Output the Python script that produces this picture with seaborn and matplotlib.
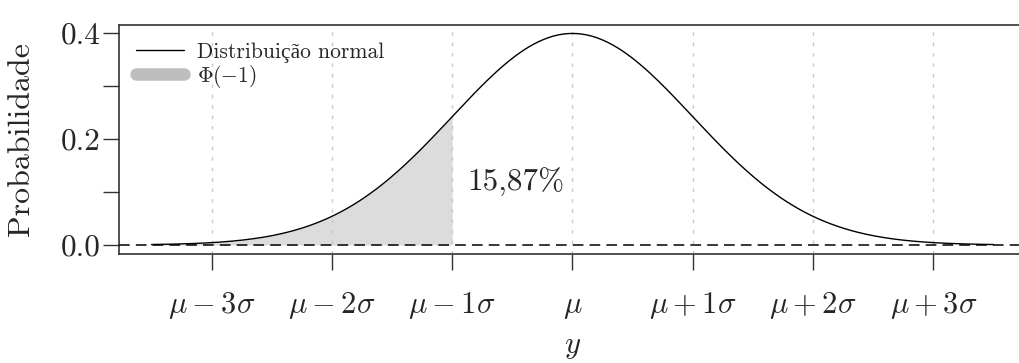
import math
import numpy as np
import pandas as pd
import matplotlib
matplotlib.use("Agg")
import matplotlib.pyplot as plt
from matplotlib.lines import Line2D
import seaborn as sns

# Normal distribution parameters and the region shaded below mu - 1 sigma
mu = 0.0
sigma = 1.0
z_min, z_max = -3.5, 3.5
z_cut = -1.0

# Axis ticks and their labels
sigma_ticks = [-3, -2, -1, 0, 1, 2, 3]
sigma_labels = [r"$\mu - 3\sigma$", r"$\mu - 2\sigma$", r"$\mu - 1\sigma$", r"$\mu$",
                r"$\mu + 1\sigma$", r"$\mu + 2\sigma$", r"$\mu + 3\sigma$"]
prob_ticks = [0.0, 0.1, 0.2, 0.3, 0.4]
prob_labels = ["0.0", "", "0.2", "", "0.4"]

legend_labels = ["Distribuição normal", r"$\Phi(-1)$"]

sns.set_style("white")
plt.rcParams["font.family"] = ["cmr10", "Liberation Serif", "DejaVu Serif"]
plt.rcParams["mathtext.fontset"] = "cm"
plt.rcParams["axes.formatter.use_mathtext"] = True

x = np.linspace(z_min, z_max, 701)
dens = np.exp(-0.5 * ((x - mu) / sigma) ** 2) / (sigma * math.sqrt(2 * math.pi))
curve = pd.DataFrame({"y": x, "densidade": dens})

p_cut = 0.5 * (1 + math.erf((z_cut - mu) / (sigma * math.sqrt(2))))
pct_label = f"{100 * p_cut:.2f}%".replace(".", ",")

fig = plt.figure(figsize=(10.19, 3.63), dpi=100)
ax = fig.add_axes([0.1168, 0.3003, 0.890, 0.631])

# shaded tail area
mask = curve["y"] <= z_cut
ax.fill_between(curve["y"][mask], 0, curve["densidade"][mask],
                color="#DCDCDC", linewidth=0, zorder=1)

# vertical reference lines at each sigma
for t in sigma_ticks:
    ax.axvline(t, color="#C8C8C8", lw=1.0, ls=(0, (2.5, 5)), zorder=2)

ax.axhline(0, color="black", lw=1.1, ls=(0, (7, 4)), zorder=3)

sns.lineplot(data=curve, x="y", y="densidade", color="black", lw=1.0,
             ax=ax, zorder=4)

ax.text(-0.47, 0.117, pct_label, fontsize=22.5, ha="center", va="center", zorder=5)

ax.set_xlim(-3.77, 3.77)
ax.set_ylim(-0.017, 0.415)
ax.set_xticks(sigma_ticks)
ax.set_xticklabels(sigma_labels, fontsize=22)
for lbl in ax.get_xticklabels():
    lbl.set_verticalalignment("baseline")
ax.set_yticks(prob_ticks)
ax.set_yticklabels(prob_labels, fontsize=22.5)
ax.tick_params(axis="both", direction="out", length=11.5, width=1.0, color="#333333",
               bottom=True, left=True)
ax.tick_params(axis="x", pad=31)
ax.tick_params(axis="y", pad=2)

ax.set_xlabel(r"$y$", fontsize=22, labelpad=9)
ax.set_ylabel("Probabilidade", fontsize=23, labelpad=18)

for side in ["left", "bottom", "top"]:
    ax.spines[side].set_color("#333333")
    ax.spines[side].set_linewidth(1.2)
ax.spines["right"].set_visible(False)

handles = [Line2D([], [], color="black", lw=1.0),
           Line2D([], [], color="#BEBEBE", lw=9, solid_capstyle="round")]
ax.legend(handles, legend_labels, loc="upper left", bbox_to_anchor=(0.0, 1.0),
          frameon=False, fontsize=15.5, handlelength=2.2, handletextpad=0.6,
          labelspacing=0.0, borderaxespad=0.4)

fig.savefig("out.png", dpi=100)
